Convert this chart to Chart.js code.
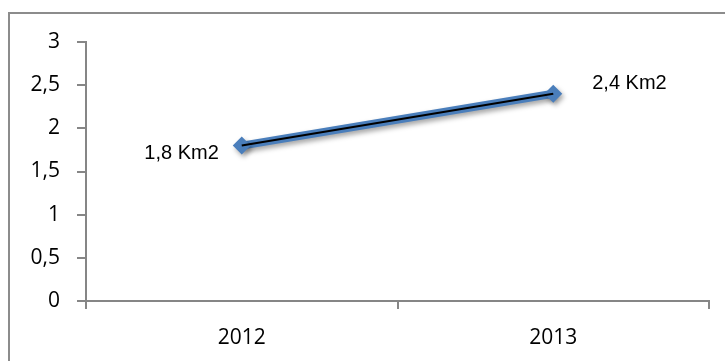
<!DOCTYPE html>
<html>
<head>
<meta charset="utf-8">
<title>Km2 2012-2013</title>
<script src="https://cdn.jsdelivr.net/npm/chart.js@4.4.1/dist/chart.umd.min.js"></script>
<style>
  html, body { margin: 0; padding: 0; background: #fff; }
  canvas { display: block; }
</style>
</head>
<body>
<canvas id="areaChart" width="725" height="361"></canvas>
<script>
'use strict';

// data
const years = ['2012', '2013'];
const areaKm2 = [1.8, 2.4];
const yTicks = [0, 0.5, 1, 1.5, 2, 2.5, 3];
const unit = 'Km2';

const AXIS_GREY = '#868686';
const TICK_FONT = { family: 'Open Sans', size: 21 };

function fmt(v) {
  return String(v).replace('.', ',');
}

// outer frame (only top and left edges show)
const framePlugin = {
  id: 'frame',
  beforeDraw(chart) {
    const ctx = chart.ctx;
    ctx.save();
    ctx.strokeStyle = '#8c8c8c';
    ctx.lineWidth = 2;
    ctx.beginPath();
    ctx.moveTo(9, chart.height);
    ctx.lineTo(9, 13);
    ctx.lineTo(chart.width, 13);
    ctx.stroke();
    ctx.restore();
  }
};

// soft shadow under the thick blue line
const shadowPlugin = {
  id: 'lineShadow',
  beforeDatasetDraw(chart, args) {
    if (args.index !== 0) return;
    const ctx = chart.ctx;
    ctx.save();
    ctx.shadowColor = 'rgba(0, 0, 0, 0.35)';
    ctx.shadowBlur = 5;
    ctx.shadowOffsetX = 2;
    ctx.shadowOffsetY = 3;
  },
  afterDatasetDraw(chart, args) {
    if (args.index !== 0) return;
    chart.ctx.restore();
  }
};

// value labels beside the points
const valueLabels = {
  id: 'valueLabels',
  afterDatasetsDraw(chart) {
    const ctx = chart.ctx;
    const meta = chart.getDatasetMeta(0);
    ctx.save();
    ctx.fillStyle = '#000';
    ctx.font = '20px "Liberation Sans", Arial, sans-serif';
    ctx.textBaseline = 'middle';
    meta.data.forEach((pt, i) => {
      const text = fmt(areaKm2[i]) + ' ' + unit;
      if (i === 0) {
        ctx.textAlign = 'right';
        ctx.fillText(text, pt.x - 23, pt.y + 8);
      } else {
        ctx.textAlign = 'left';
        ctx.fillText(text, pt.x + 39, pt.y - 10);
      }
    });
    ctx.restore();
  }
};

const ctx = document.getElementById('areaChart').getContext('2d');
new Chart(ctx, {
  type: 'line',
  data: {
    labels: years,
    datasets: [
      {
        data: areaKm2,
        order: 2,
        borderColor: '#4a7ebb',
        borderWidth: 8,
        pointStyle: 'rectRot',
        pointRadius: 9,
        pointBackgroundColor: '#4a7ebb',
        pointBorderColor: '#4a7ebb',
        pointBorderWidth: 0,
        tension: 0
      },
      {
        data: areaKm2,
        order: 1,
        borderColor: '#000',
        borderWidth: 2,
        pointRadius: 0,
        tension: 0
      }
    ]
  },
  options: {
    responsive: false,
    animation: false,
    layout: { padding: { top: 42, right: 16, left: 0, bottom: 0 } },
    plugins: {
      legend: { display: false },
      tooltip: { enabled: false }
    },
    scales: {
      x: {
        offset: true,
        grid: {
          offset: true,
          drawOnChartArea: false,
          tickLength: 8,
          color: AXIS_GREY,
          lineWidth: 2
        },
        border: { color: AXIS_GREY, width: 2 },
        ticks: { color: '#000', font: TICK_FONT, padding: 16 },
        afterFit(scale) { scale.height = 60; }
      },
      y: {
        min: yTicks[0],
        max: yTicks[yTicks.length - 1],
        afterBuildTicks(scale) {
          scale.ticks = yTicks.map(v => ({ value: v }));
        },
        grid: {
          drawOnChartArea: false,
          tickLength: 9,
          color: AXIS_GREY,
          lineWidth: 2
        },
        border: { color: AXIS_GREY, width: 2 },
        ticks: {
          color: '#000',
          font: TICK_FONT,
          padding: 17,
          callback: v => fmt(v)
        },
        afterFit(scale) { scale.width = 86; }
      }
    }
  },
  plugins: [framePlugin, shadowPlugin, valueLabels]
});
</script>
</body>
</html>
